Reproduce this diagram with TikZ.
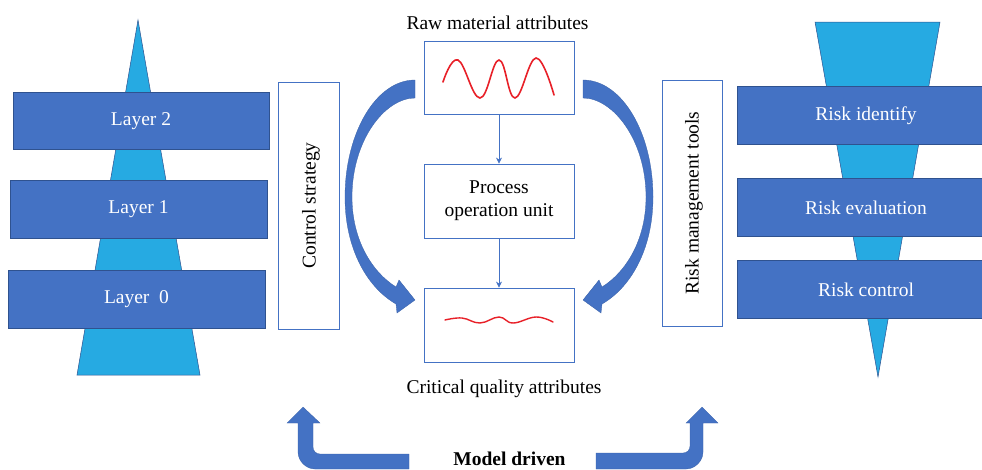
\documentclass[tikz,border=0pt]{standalone}
\usepackage{fontspec}
\setmainfont{Liberation Serif}
\usetikzlibrary{arrows.meta}
\definecolor{boxblue}{RGB}{68,114,196}
\definecolor{edgeblue}{RGB}{47,82,143}
\definecolor{sky}{RGB}{38,170,226}
\definecolor{wavered}{RGB}{232,32,40}
\begin{document}
\begin{tikzpicture}[x=1pt,y=-1pt,font=\fontsize{19.5}{23}\selectfont,
  layerbox/.style={rectangle,fill=boxblue,draw=edgeblue,line width=0.6pt,text=white,inner sep=0pt,minimum height=58pt},
  outbox/.style={rectangle,draw=boxblue,line width=0.9pt,fill=white,inner sep=0pt},
  thinarrow/.style={draw=boxblue,line width=0.7pt,-{Stealth[length=6pt,width=6pt]}},
  bigarrow/.style={fill=boxblue,draw=boxblue!85!black,line width=0.3pt},
  wave/.style={wavered,line width=1.6pt,line cap=round},
  tri/.style={fill=sky,draw=edgeblue,line width=0.5pt}]
\useasboundingbox (0,0) rectangle (982,469);
% triangles
\filldraw[tri] (138,20) -- (77,375) -- (200,375) -- cycle;
\filldraw[tri] (815,22) -- (940,22) -- (878,377) -- cycle;
% layers
\node[layerbox,minimum width=256pt,minimum height=57pt] (l2) at (141,121) {Layer 2};
\node[layerbox,minimum width=257pt] (l1) at (138.5,209.5) {Layer 1};
\node[layerbox,minimum width=257pt] (l0) at (136.5,299.5) {Layer\ \ 0};
% risk boxes
\node[layerbox,minimum width=258pt] (ri) at (866,115.5) {Risk identify};
\node[layerbox,minimum width=258pt] (re) at (866,207.5) {Risk evaluation};
\node[layerbox,minimum width=258pt] (rc) at (866,289.5) {Risk control};
% side boxes
\node[outbox,minimum width=61pt,minimum height=247pt] (ctrl) at (308.5,205.5) {};
\node[rotate=90] (ctrltxt) at (311,205.5) {Control strategy};
\node[outbox,minimum width=60pt,minimum height=246pt] (rmt) at (692,203) {};
\node[rotate=90] (rmttxt) at (694,203) {Risk management tools};
% centre boxes
\node[outbox,minimum width=150pt,minimum height=73pt] (raw) at (499,77.5) {};
\node[outbox,minimum width=150pt,minimum height=74pt,align=center] (proc) at (499,201) {Process\\operation unit};
\node[outbox,minimum width=150pt,minimum height=74pt] (cqa) at (499,325) {};
\node[anchor=base] (rawt) at (497.5,29) {Raw material attributes};
\node[anchor=base] (cqat) at (504,393) {Critical quality attributes};
% waves
\draw[wave] plot[smooth,tension=0.7] coordinates {(443,82) (458,60) (480,98) (499,60) (515,98) (536,58) (554,95)};
\draw[wave,line width=1.4pt] plot[smooth,tension=0.7] coordinates {(445,320) (462,318) (480,323) (499,317) (513,323) (536,317) (553,322)};
% thin arrows
\draw[thinarrow] (raw.south) -- (proc.north);
\draw[thinarrow] (proc.south) -- (cqa.north);
% big curved arrows
\filldraw[bigarrow] (415,80) .. controls (376,80) and (345,133) .. (345,197)
  .. controls (345,250) and (368,288) .. (396,304)
  -- (397,313) -- (415,300) -- (399,280) -- (396,287)
  .. controls (372,272) and (352,240) .. (352,197)
  .. controls (352,140) and (385,98) .. (415,98) -- cycle;
\filldraw[bigarrow] (583,80) .. controls (622,80) and (653,133) .. (653,197)
  .. controls (653,250) and (630,288) .. (602,304)
  -- (601,313) -- (583,300) -- (599,280) -- (602,287)
  .. controls (626,272) and (646,240) .. (646,197)
  .. controls (646,140) and (613,98) .. (583,98) -- cycle;
% bottom arrows
\filldraw[bigarrow] (409,454) -- (320,454) .. controls (316,454) and (313,451) .. (313,447)
  -- (313,423) -- (320,423) -- (303,407) -- (287,423) -- (298,423) -- (298,452)
  .. controls (298,461) and (306,469) .. (315,469) -- (409,469) -- cycle;
\filldraw[bigarrow] (596,453) -- (683,453) .. controls (687,453) and (690,450) .. (690,446)
  -- (690,423) -- (686,423) -- (702,407) -- (718,423) -- (703,423) -- (703,452)
  .. controls (703,461) and (695,469) .. (686,469) -- (596,469) -- cycle;
\node[anchor=base,font=\fontsize{19.5}{23}\selectfont\bfseries] (md) at (509.5,465) {Model driven};
\end{tikzpicture}
\end{document}
